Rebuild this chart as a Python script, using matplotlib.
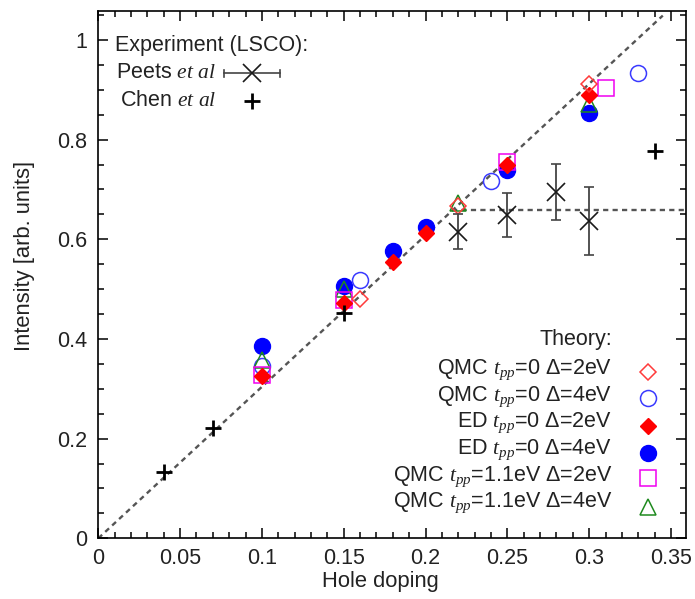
import matplotlib
matplotlib.use("Agg")
import matplotlib.pyplot as plt
from matplotlib.ticker import MultipleLocator

plt.rcParams["font.family"] = ["Liberation Sans", "DejaVu Sans"]
plt.rcParams["mathtext.fontset"] = "custom"
plt.rcParams["mathtext.rm"] = "Liberation Sans"
plt.rcParams["mathtext.it"] = "Liberation Serif:italic"
plt.rcParams["mathtext.bf"] = "Liberation Sans:bold"

# --- Experiment (LSCO) ---
peets_x = [0.22, 0.25, 0.28, 0.30]
peets_y = [0.615, 0.648, 0.695, 0.636]
peets_err = [0.035, 0.044, 0.056, 0.068]

chen_x = [0.04, 0.07, 0.15, 0.34]
chen_y = [0.133, 0.221, 0.452, 0.778]

# --- Theory ---
qmc0_d2_x = [0.16, 0.22, 0.30]
qmc0_d2_y = [0.481, 0.667, 0.911]

qmc0_d4_x = [0.10, 0.16, 0.24, 0.33]
qmc0_d4_y = [0.345, 0.519, 0.717, 0.933]

ed_d2_x = [0.10, 0.15, 0.18, 0.20, 0.25, 0.30]
ed_d2_y = [0.325, 0.472, 0.555, 0.613, 0.750, 0.890]

ed_d4_x = [0.10, 0.15, 0.18, 0.20, 0.25, 0.30]
ed_d4_y = [0.385, 0.506, 0.576, 0.625, 0.738, 0.853]

qmc11_d2_x = [0.10, 0.15, 0.25, 0.31]
qmc11_d2_y = [0.328, 0.479, 0.756, 0.904]

qmc11_d4_x = [0.10, 0.15, 0.22, 0.30]
qmc11_d4_y = [0.357, 0.500, 0.672, 0.872]

# guide lines: linear rise and saturation level
guide_slope = 3.04
guide_end_x = 0.345
saturation = 0.658

theory_labels = [
    r"QMC $t_{pp}$=0 Δ=2eV",
    r"QMC $t_{pp}$=0 Δ=4eV",
    r"ED $t_{pp}$=0 Δ=2eV",
    r"ED $t_{pp}$=0 Δ=4eV",
    r"QMC $t_{pp}$=1.1eV Δ=2eV",
    r"QMC $t_{pp}$=1.1eV Δ=4eV",
]

RED = "#ff0000"
RED_OPEN = "#ff3b3b"
BLUE = "#0000ff"
BLUE_OPEN = "#3a3aff"
MAGENTA = "#f000f0"
GREEN = "#1f8a1f"
GUIDE = "#555555"

W, H = 695, 599
fig = plt.figure(figsize=(W / 100, H / 100), dpi=100)
ax = fig.add_axes([98.3 / W, 1 - 538.3 / H, (685.7 - 98.3) / W, (538.3 - 11) / H])

xmax, ymax = 0.359, 1.058
ax.set_xlim(0, xmax)
ax.set_ylim(0, ymax)

# guide lines
ax.plot([0, guide_end_x], [0, guide_slope * guide_end_x], color=GUIDE, lw=1.7,
        dashes=(2.2, 1.8), zorder=1)
ax.plot([saturation / guide_slope, xmax], [saturation, saturation], color=GUIDE,
        lw=1.7, dashes=(2.2, 1.8), zorder=1, clip_on=False)

ms = 11.5
styles = [
    (ed_d4_x, ed_d4_y, dict(marker="o", color=BLUE, mfc=BLUE, mec=BLUE, ms=ms)),
    (qmc0_d4_x, qmc0_d4_y, dict(marker="o", color=BLUE_OPEN, mfc="none", mec=BLUE_OPEN, ms=ms, mew=1.1)),
    (qmc11_d4_x, qmc11_d4_y, dict(marker="^", color=GREEN, mfc="none", mec=GREEN, ms=11, mew=1.1)),
    (qmc11_d2_x, qmc11_d2_y, dict(marker="s", color=MAGENTA, mfc="none", mec=MAGENTA, ms=11, mew=1.1)),
    (ed_d2_x, ed_d2_y, dict(marker="D", color=RED, mfc=RED, mec=RED, ms=8)),
    (qmc0_d2_x, qmc0_d2_y, dict(marker="D", color=RED_OPEN, mfc="none", mec=RED_OPEN, ms=8, mew=1.1)),
]
for xs, ys, kw in styles:
    ax.plot(xs, ys, ls="none", zorder=3, **kw)

# experiment
ax.errorbar(peets_x, peets_y, yerr=peets_err, fmt="x", color="#1a1a1a", ecolor="#444444",
            ms=13, mew=1.2, elinewidth=1.3, capsize=3.5, capthick=1.2, zorder=4)
ax.plot(chen_x, chen_y, ls="none", marker="+", color="black", ms=12, mew=2.0, zorder=4)

# axes styling
ax.xaxis.set_major_locator(MultipleLocator(0.05))
ax.xaxis.set_minor_locator(MultipleLocator(0.01))
ax.yaxis.set_major_locator(MultipleLocator(0.2))
ax.yaxis.set_minor_locator(MultipleLocator(0.05))
ax.set_xticks([0, 0.05, 0.1, 0.15, 0.2, 0.25, 0.3, 0.35])
ax.set_xticklabels(["0", "0.05", "0.1", "0.15", "0.2", "0.25", "0.3", "0.35"])
ax.set_yticks([0, 0.2, 0.4, 0.6, 0.8, 1.0])
ax.set_yticklabels(["0", "0.2", "0.4", "0.6", "0.8", "1"])
ax.tick_params(which="both", direction="in", top=True, right=True, width=1.1,
               labelsize=15.5, labelcolor="#222222")
ax.tick_params(which="major", length=7)
ax.tick_params(which="minor", length=4)
ax.tick_params(axis="x", pad=7)
ax.tick_params(axis="y", pad=8)
for s in ax.spines.values():
    s.set_linewidth(1.2)

ax.set_xlabel("Hole doping", fontsize=15.8, color="#222222")
ax.set_ylabel("Intensity [arb. units]", fontsize=15.8, color="#222222")
ax.xaxis.set_label_coords(0.48, -0.062)
ax.yaxis.set_label_coords(-0.108, 0.535)

# key: experiment
def px(x, y):
    return ((x - 98.3) / (685.7 - 98.3), (538.3 - y) / (538.3 - 11))

fs = 15.5
t = ax.text(*px(115, 45), "Experiment (LSCO):", transform=ax.transAxes, fontsize=fs,
            ha="left", va="center", color="#222222")
ax.text(*px(116.5, 73), r"Peets $et\ al$", transform=ax.transAxes, fontsize=fs,
        ha="left", va="center", color="#222222")
ax.text(*px(120, 101), r"Chen $et\ al$", transform=ax.transAxes, fontsize=fs,
        ha="left", va="center", color="#222222")

kx0, ky0 = px(223.5, 73)
kx1, _ = px(280, 73)
kxm, _ = px(252, 73)
ax.plot([kx0, kx1], [ky0, ky0], color="#444444", lw=1.2, transform=ax.transAxes)
cap = 3.5 / (538.3 - 11)
for kx in (kx0, kx1):
    ax.plot([kx, kx], [ky0 - cap, ky0 + cap], color="#444444", lw=1.2, transform=ax.transAxes)
ax.plot([kxm], [ky0], marker="x", color="#1a1a1a", ms=13, mew=1.2, transform=ax.transAxes)
kxm2, ky2 = px(252.3, 101)
ax.plot([kxm2], [ky2], marker="+", color="black", ms=12, mew=2.0, transform=ax.transAxes)

# key: theory
ax.text(*px(612, 340), "Theory:", transform=ax.transAxes, fontsize=fs, ha="right",
        va="center", color="#222222")
row_text_y = [369.7, 396.3, 423, 449.7, 476.3, 503]
row_mark_y = [371.7, 398.3, 426, 453, 478.3, 506.7]
key_order = [5, 1, 4, 0, 3, 2]  # index into styles for each theory label
for lab, ty, my, si in zip(theory_labels, row_text_y, row_mark_y, key_order):
    ax.text(*px(612, ty), lab, transform=ax.transAxes, fontsize=fs, ha="right",
            va="center", color="#222222")
    kw = dict(styles[si][2])
    kw.pop("color", None)
    ax.plot(*[[v] for v in px(648.3, my)], ls="none", transform=ax.transAxes, **kw)

fig.savefig("out.png", dpi=100)
